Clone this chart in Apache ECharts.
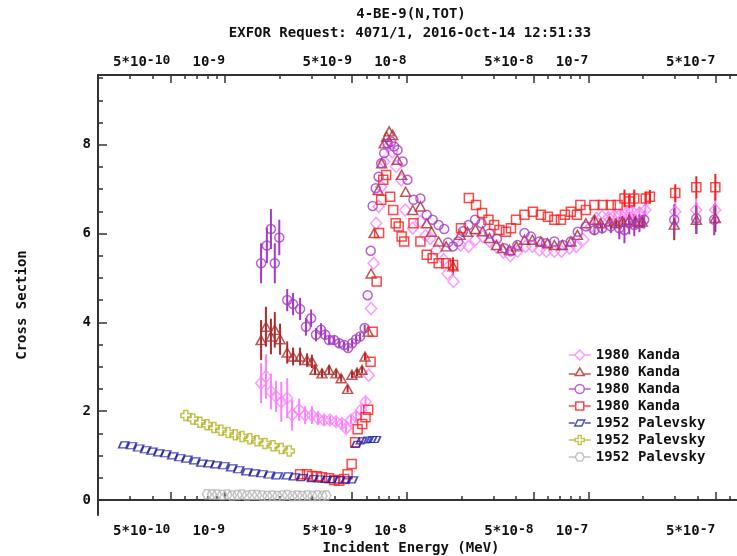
<!DOCTYPE html>
<html><head><meta charset="utf-8">
<script src="https://cdn.jsdelivr.net/npm/echarts@6/dist/echarts.min.js"></script>
<style>html,body{margin:0;padding:0;background:#fff}#c{width:737px;height:556px}</style>
</head><body><div id="c"></div>
<script>
const FONT = '"DejaVu Sans Mono", "Liberation Mono", monospace';
const titleLines = ['4-BE-9(N,TOT)', 'EXFOR Request: 4071/1, 2016-Oct-14 12:51:33'];
const xAxisTitle = 'Incident Energy (MeV)';
const yAxisTitle = 'Cross Section';

const xMin = 2e-10, xMax = 6.58e-7;
const yMin = -0.34, yMax = 9.57;
const xMajorTicks = [5e-10, 1e-9, 5e-9, 1e-8, 5e-8, 1e-7, 5e-7];
const xTickBase = ['5*10', '10', '5*10', '10', '5*10', '10', '5*10'];
const xTickExp = ['-10', '-9', '-9', '-8', '-8', '-7', '-7'];
const xMinorTicks = [3e-10,4e-10,6e-10,7e-10,8e-10,9e-10,2e-9,3e-9,4e-9,6e-9,7e-9,8e-9,9e-9,
  2e-8,3e-8,4e-8,6e-8,7e-8,8e-8,9e-8,2e-7,3e-7,4e-7,6e-7];
const yMajorTicks = [0, 2, 4, 6, 8];
const yMinorTicks = [0.5,1,1.5,2.5,3,3.5,4.5,5,5.5,6.5,7,7.5,8.5,9,9.5];

const legendLabels = ['1980 Kanda','1980 Kanda','1980 Kanda','1980 Kanda','1952 Palevsky','1952 Palevsky','1952 Palevsky'];

// ---- 1980 Kanda (diamonds) ----
const kandaDiamondE = [1.58e-9,1.68e-9,1.79e-9,1.91e-9,2.04e-9,2.20e-9,2.34e-9,2.56e-9,2.76e-9,3.01e-9,
  3.25e-9,3.51e-9,3.79e-9,4.09e-9,4.41e-9,4.64e-9,4.94e-9,5.27e-9,5.61e-9,5.94e-9,
  6.18e-9,6.37e-9,6.58e-9,6.79e-9,7.01e-9,7.24e-9,7.52e-9,7.91e-9,8.32e-9,8.75e-9,9.33e-9,9.82e-9,
  1.08e-8,1.19e-8,1.27e-8,1.35e-8,1.46e-8,1.60e-8,1.68e-8,1.81e-8,1.98e-8,2.19e-8,
  2.39e-8,2.62e-8,2.86e-8,3.12e-8,3.41e-8,3.72e-8,4.07e-8,4.51e-8,4.92e-8,5.38e-8,
  5.87e-8,6.50e-8,7.11e-8,7.87e-8,8.59e-8,9.39e-8,
  1.03e-7,1.11e-7,1.19e-7,1.29e-7,1.39e-7,1.50e-7,1.62e-7,1.75e-7,1.91e-7,2.06e-7,3.01e-7,3.92e-7,4.99e-7];
const kandaDiamondY = [2.63,2.78,2.44,2.33,2.21,2.29,1.91,2.03,1.91,1.91,
  1.84,1.80,1.80,1.76,1.72,1.61,1.80,1.88,2.03,2.21,
  2.81,4.31,5.33,6.23,6.61,7.05,7.62,7.96,7.84,7.51,7.21,6.53,
  6.12,6.27,5.95,5.89,5.63,5.41,5.10,4.92,5.74,5.71,
  5.86,5.93,5.82,5.70,5.58,5.50,5.60,5.71,5.71,5.63,
  5.60,5.60,5.60,5.67,5.71,5.86,
  6.15,6.34,6.38,6.36,6.40,6.42,6.46,6.49,6.46,6.53,6.49,6.53,6.53];
const kandaDiamondErr = [0.45,0.5,0.4,0.35,0.45,0.45,0.35,0.25,0.2,0.2,
  0.15,0.12,0.1,0.1,0.1,0.1,0.1,0.1,0.1,0.1,
  0,0,0,0,0,0,0,0,0,0,0,0,
  0,0,0,0,0,0,0,0,0,0,
  0,0,0,0,0,0,0,0,0,0,
  0,0,0,0,0,0,
  0,0,0,0.1,0.1,0.1,0.12,0.15,0.15,0.15,0.35,0.3,0.3];

// ---- 1980 Kanda (triangles) ----
const kandaTriangleE = [1.58e-9,1.68e-9,1.79e-9,1.88e-9,2.01e-9,2.20e-9,2.37e-9,2.59e-9,2.83e-9,3.01e-9,
  3.13e-9,3.42e-9,3.74e-9,4.09e-9,4.36e-9,4.73e-9,5.00e-9,5.33e-9,5.68e-9,5.90e-9,
  6.14e-9,6.37e-9,6.62e-9,6.97e-9,7.28e-9,7.52e-9,7.76e-9,8.01e-9,8.37e-9,8.87e-9,9.38e-9,9.87e-9,
  1.08e-8,1.19e-8,1.29e-8,1.37e-8,1.50e-8,1.65e-8,1.80e-8,1.97e-8,2.16e-8,2.39e-8,
  2.62e-8,2.86e-8,3.12e-8,3.37e-8,3.68e-8,4.02e-8,4.45e-8,4.92e-8,5.48e-8,5.95e-8,
  6.50e-8,7.19e-8,8.01e-8,8.71e-8,9.69e-8,
  1.08e-7,1.17e-7,1.31e-7,1.42e-7,1.54e-7,1.68e-7,1.82e-7,1.98e-7,2.97e-7,3.93e-7,5.00e-7];
const kandaTriangleY = [3.60,3.90,3.68,3.83,3.62,3.32,3.23,3.23,3.15,3.12,
  2.93,2.85,2.93,2.85,2.74,2.50,2.82,2.87,2.93,3.23,
  3.79,5.10,6.01,6.98,7.58,8.03,8.18,8.30,8.22,7.66,7.32,6.94,
  6.53,6.61,6.23,6.04,5.82,5.71,5.26,5.97,6.04,6.10,
  6.05,5.90,5.74,5.67,5.63,5.71,5.86,5.86,5.82,5.78,
  5.74,5.74,5.82,5.97,6.23,
  6.31,6.23,6.27,6.23,6.27,6.31,6.27,6.27,6.20,6.31,6.35];
const kandaTriangleErr = [0.45,0.45,0.4,0.4,0.35,0.25,0.2,0.2,0.15,0.15,
  0.12,0.1,0.1,0.1,0.08,0.08,0.08,0.08,0.08,0.08,
  0,0,0,0,0,0,0,0,0,0,0,0,
  0,0,0,0,0,0,0.2,0,0,0,
  0,0,0,0,0,0,0,0,0,0,
  0,0,0,0,0,
  0.1,0.1,0.1,0.1,0.12,0.12,0.15,0.15,0.35,0.32,0.32];

// ---- 1980 Kanda (circles) ----
const kandaCircleE = [1.58e-9,1.70e-9,1.79e-9,1.88e-9,1.99e-9,2.20e-9,2.37e-9,2.59e-9,2.79e-9,2.98e-9,
  3.17e-9,3.38e-9,3.56e-9,3.74e-9,3.99e-9,4.25e-9,4.53e-9,4.76e-9,5.01e-9,5.27e-9,
  5.54e-9,5.87e-9,6.10e-9,6.34e-9,6.50e-9,6.75e-9,7.01e-9,7.24e-9,7.52e-9,7.85e-9,
  8.22e-9,8.53e-9,8.91e-9,9.50e-9,
  1.01e-8,1.09e-8,1.19e-8,1.29e-8,1.39e-8,1.50e-8,1.61e-8,1.69e-8,1.80e-8,1.92e-8,
  2.04e-8,2.19e-8,2.38e-8,2.58e-8,2.86e-8,3.14e-8,3.45e-8,3.75e-8,4.07e-8,4.45e-8,
  4.83e-8,5.38e-8,5.84e-8,6.50e-8,7.24e-8,8.01e-8,8.75e-8,9.69e-8,
  1.08e-7,1.19e-7,1.33e-7,1.48e-7,1.58e-7,1.68e-7,1.79e-7,1.91e-7,2.03e-7,2.97e-7,3.93e-7,4.93e-7];
const kandaCircleY = [5.33,5.73,6.10,5.33,5.91,4.50,4.41,4.30,3.90,4.09,
  3.72,3.83,3.72,3.60,3.60,3.53,3.49,3.42,3.53,3.62,
  3.68,3.87,4.61,5.61,6.62,7.02,7.28,7.58,7.81,8.03,
  8.07,7.96,7.88,7.62,
  7.21,6.76,6.79,6.42,6.31,6.19,6.10,5.80,5.71,5.82,
  6.05,6.19,6.31,6.23,6.00,5.88,5.67,5.60,5.74,6.01,
  5.93,5.82,5.78,5.82,5.74,5.82,6.04,6.16,
  6.08,6.12,6.16,6.12,6.08,6.23,6.19,6.23,6.31,6.31,6.34,6.31];
const kandaCircleErr = [0.45,0.4,0.45,0.45,0.4,0.25,0.25,0.25,0.2,0.2,
  0.15,0.15,0.12,0.1,0.1,0.1,0.08,0.08,0.08,0.08,
  0.08,0.08,0,0,0,0,0,0,0,0,
  0,0,0,0,
  0,0,0,0,0,0,0,0,0,0,
  0,0,0,0,0,0,0,0,0,0,
  0,0,0,0,0,0,0,0,
  0.12,0.12,0.15,0.25,0.3,0.25,0.25,0.2,0.2,0.35,0.35,0.35];

// ---- 1980 Kanda (squares) ----
const kandaSquareE = [2.59e-9,2.83e-9,3.01e-9,3.21e-9,3.42e-9,3.74e-9,3.99e-9,4.25e-9,4.53e-9,4.73e-9,
  4.98e-9,5.20e-9,5.37e-9,5.69e-9,5.94e-9,6.14e-9,6.33e-9,6.50e-9,6.84e-9,7.05e-9,
  7.24e-9,7.43e-9,7.71e-9,8.11e-9,8.43e-9,8.70e-9,9.04e-9,9.38e-9,9.69e-9,
  1.09e-8,1.19e-8,1.29e-8,1.39e-8,1.50e-8,1.65e-8,1.80e-8,1.99e-8,2.20e-8,2.41e-8,
  2.60e-8,2.82e-8,3.03e-8,3.24e-8,3.52e-8,3.75e-8,4.00e-8,4.45e-8,4.95e-8,5.48e-8,
  5.99e-8,6.50e-8,7.06e-8,7.43e-8,8.01e-8,8.65e-8,9.04e-8,9.69e-8,
  1.08e-7,1.20e-7,1.33e-7,1.45e-7,1.58e-7,1.68e-7,1.79e-7,2.07e-7,2.18e-7,3.01e-7,3.93e-7,5.00e-7];
const kandaSquareY = [0.58,0.58,0.54,0.53,0.51,0.49,0.45,0.43,0.47,0.58,
  0.81,1.30,1.59,1.71,1.86,2.03,3.11,3.79,4.92,6.01,
  6.76,7.21,7.32,6.83,6.53,6.23,6.16,5.93,5.82,
  6.23,5.82,5.52,5.44,5.33,5.33,5.29,6.12,6.80,6.64,
  6.46,6.31,6.19,6.08,6.04,6.12,6.31,6.42,6.49,6.42,
  6.38,6.31,6.31,6.42,6.49,6.42,6.64,6.53,
  6.64,6.64,6.64,6.64,6.79,6.72,6.79,6.79,6.83,6.91,7.04,7.04];
const kandaSquareErr = [0,0,0,0,0,0,0,0,0,0,
  0,0,0,0,0,0,0,0,0,0,
  0,0,0,0,0,0,0,0,0,
  0,0,0,0,0,0,0.15,0,0,0,
  0,0,0,0,0,0,0,0,0,0,
  0,0,0,0,0,0,0,0,
  0,0,0,0,0.2,0.15,0.2,0.15,0.15,0.2,0.25,0.3];

// ---- 1952 Palevsky ----
const palevskyAE = [2.77e-10,3.06e-10,3.35e-10,3.66e-10,3.96e-10,4.32e-10,4.72e-10,5.16e-10,5.64e-10,6.17e-10,
  6.83e-10,7.46e-10,8.16e-10,8.92e-10,9.87e-10,1.09e-9,1.19e-9,1.32e-9,1.45e-9,1.60e-9,
  1.75e-9,1.94e-9,2.20e-9,2.41e-9,2.66e-9,3.03e-9,3.31e-9,3.61e-9,3.90e-9,4.26e-9,
  4.67e-9,5.03e-9,5.30e-9,5.64e-9,6.01e-9,6.41e-9,6.74e-9];
const palevskyAY = [1.24,1.22,1.17,1.13,1.10,1.06,1.04,0.99,0.95,0.92,
  0.88,0.83,0.81,0.79,0.77,0.72,0.68,0.63,0.61,0.59,
  0.56,0.54,0.54,0.52,0.50,0.48,0.47,0.46,0.46,0.45,
  0.45,0.45,1.25,1.33,1.35,1.36,1.36];
const palevskyBE = [6.09e-10,6.65e-10,7.27e-10,7.96e-10,8.69e-10,9.50e-10,1.04e-9,1.14e-9,1.24e-9,1.37e-9,
  1.50e-9,1.66e-9,1.84e-9,2.04e-9,2.26e-9];
const palevskyBY = [1.90,1.82,1.75,1.69,1.63,1.57,1.52,1.47,1.43,1.38,1.33,1.27,1.22,1.16,1.10];
const palevskyCE = [7.96e-10,8.48e-10,9.03e-10,9.63e-10,1.03e-9,1.09e-9,1.17e-9,1.24e-9,1.32e-9,1.41e-9,
  1.50e-9,1.60e-9,1.71e-9,1.82e-9,1.94e-9,2.07e-9,2.20e-9,2.35e-9,2.50e-9,2.66e-9,
  2.84e-9,3.03e-9,3.22e-9,3.44e-9,3.61e-9];
const palevskyCY = [0.13,0.12,0.12,0.11,0.12,0.10,0.11,0.12,0.10,0.11,
  0.11,0.10,0.09,0.10,0.09,0.10,0.11,0.09,0.10,0.09,
  0.10,0.09,0.10,0.09,0.10];

// ---- styles (kept apart from data) ----
const seriesDefs = [
  {id:'kd', E:kandaDiamondE, Y:kandaDiamondY, Err:kandaDiamondErr, color:'#ff80ff', symbol:'diamond', size:[11,12],
   icon:'path://M0,5H6M6,5L11,0L16,5L11,10ZM16,5H22'},
  {id:'kt', E:kandaTriangleE, Y:kandaTriangleY, Err:kandaTriangleErr, color:'#b02a2a', symbol:'triangle', size:[10,9],
   icon:'path://M0,7H6.5M6.5,8.5L11,1L15.5,8.5ZM15.5,7H22M0,0.01H0.01M0,9.99H0.01'},
  {id:'kc', E:kandaCircleE, Y:kandaCircleY, Err:kandaCircleErr, color:'#a838c8', symbol:'circle', size:9,
   icon:'path://M0,5H6.5M6.5,5A4.5,4.5 0 1 1 15.5,5A4.5,4.5 0 1 1 6.5,5ZM15.5,5H22'},
  {id:'ks', E:kandaSquareE, Y:kandaSquareY, Err:kandaSquareErr, color:'#ff1a1a', symbol:'rect', size:9,
   icon:'path://M0,5H7M7,1H15V9H7ZM15,5H22M0,0.01H0.01M0,9.99H0.01'},
  {id:'pa', E:palevskyAE, Y:palevskyAY, Err:null, color:'#2020a8', symbol:'path://M0,7L3,0L11,0L8,7Z', size:[10,6],
   icon:'path://M0,5H6M6,8L9,2H16L13,8ZM16,5H22M0,0.01H0.01M0,9.99H0.01'},
  {id:'pb', E:palevskyBE, Y:palevskyBY, Err:null, color:'#b4b424', symbol:'path://M3,0H7V3H10V7H7V10H3V7H0V3H3Z', size:10,
   icon:'path://M0,5H6.5M9.5,0.5H12.5V3.5H15.5V6.5H12.5V9.5H9.5V6.5H6.5V3.5H9.5ZM15.5,5H22'},
  {id:'pc', E:palevskyCE, Y:palevskyCY, Err:null, color:'#b4b4b4', symbol:'path://M10,5L7.5,9.33L2.5,9.33L0,5L2.5,0.67L7.5,0.67Z', size:9,
   icon:'path://M0,5H6.5M15.5,5L13.25,8.9L8.75,8.9L6.5,5L8.75,1.1L13.25,1.1ZM15.5,5H22M0,0.01H0.01M0,9.99H0.01'}
];

const L = v => Math.log10(v);
const pts = d => d.E.map((e, i) => [L(e), d.Y[i], d.Err ? (d.Err[i] || 0) : 0]);

const series = [];
seriesDefs.forEach(d => {
  if (d.Err) {
    series.push({
      type:'custom', name:d.id + '-err', xAxisIndex:0, yAxisIndex:0, silent:true,
      data: pts(d), encode:{x:0, y:1},
      renderItem: (params, api) => {
        const x = api.value(0), y = api.value(1), e = api.value(2);
        if (!e) return null;
        const p1 = api.coord([x, y - e]), p2 = api.coord([x, y + e]);
        return {type:'line', shape:{x1:p1[0], y1:p1[1], x2:p2[0], y2:p2[1]},
          style:{stroke:d.color, lineWidth:2}};
      }
    });
  }
});
seriesDefs.forEach(d => {
  series.push({
    type:'scatter', name:d.id, xAxisIndex:0, yAxisIndex:0, data:pts(d),
    symbol:d.symbol, symbolSize:d.size, silent:true,
    itemStyle:{color:'rgba(0,0,0,0)', borderColor:d.color, borderWidth:1.5}
  });
});

const tickLine = {color:'#333', width:1.5};
const majorLabelFmt = v => {
  const i = xMajorTicks.findIndex(t => Math.abs(L(t) - v) < 1e-6);
  return i < 0 ? '' : '{b|' + xTickBase[i] + '}{e|' + xTickExp[i] + '}';
};
const xRich = {
  b:{fontFamily:FONT, fontSize:14, fontWeight:'bold', color:'#111', lineHeight:15, verticalAlign:'bottom'},
  e:{fontFamily:FONT, fontSize:13, fontWeight:'bold', color:'#111', lineHeight:13, verticalAlign:'top', padding:[0,0,6,0]}
};
function xAx(position, major) {
  return {
    type:'value', position, min:L(xMin), max:L(xMax), gridIndex:0,
    axisLine:{show:major, lineStyle:{color:'#333', width:2}},
    splitLine:{show:false},
    axisTick:{show:true, inside:true, length: major ? 8 : 4, lineStyle:tickLine,
      customValues:(major ? xMajorTicks : xMinorTicks).map(L)},
    axisLabel:major ? {show:true, customValues:xMajorTicks.map(L), formatter:majorLabelFmt, rich:xRich,
      align:'right', margin: position === 'top' ? 6 : 8} : {show:false}
  };
}
function yAx(major) {
  return {
    type:'value', position:'left', min:yMin, max:yMax, gridIndex:0,
    axisLine:{show:major, lineStyle:{color:'#333', width:2}},
    splitLine:{show:false},
    axisTick:{show:true, inside:true, length: major ? 9 : 5, lineStyle:tickLine,
      customValues: major ? yMajorTicks : yMinorTicks},
    axisLabel:major ? {show:true, customValues:yMajorTicks, margin:7, fontFamily:FONT, fontSize:14,
      fontWeight:'bold', color:'#111'} : {show:false}
  };
}

const chart = echarts.init(document.getElementById('c'), null, {renderer:'canvas', width:737, height:556});
chart.setOption({
  animation:false,
  backgroundColor:'#fff',
  grid:{left:98, right:0, top:75, bottom:41, containLabel:false, outerBoundsMode:'none'},
  xAxis:[xAx('bottom', true), xAx('bottom', false), xAx('top', true), xAx('top', false)],
  yAxis:[yAx(true), yAx(false)],
  legend:{
    orient:'vertical', left:568, top:348, padding:0, itemWidth:22, itemHeight:10, itemGap:3,
    selectedMode:false,
    textStyle:{fontFamily:FONT, fontSize:14, fontWeight:'bold', color:'#111', lineHeight:14},
    data: seriesDefs.map(d => ({name:d.id, icon:d.icon,
      itemStyle:{color:'rgba(0,0,0,0)', borderColor:d.color, borderWidth:1.5}})),
    formatter: name => legendLabels[seriesDefs.findIndex(d => d.id === name)]
  },
  graphic:[
    {type:'text', x:411, y:14, style:{text:titleLines[0], font:'bold 14px ' + FONT, fill:'#111',
      textAlign:'center', textVerticalAlign:'middle', align:'center', verticalAlign:'middle'}},
    {type:'text', x:410, y:33, style:{text:titleLines[1], font:'bold 14px ' + FONT, fill:'#111',
      textAlign:'center', textVerticalAlign:'middle', align:'center', verticalAlign:'middle'}},
    {type:'text', x:411, y:548, style:{text:xAxisTitle, font:'bold 14px ' + FONT, fill:'#111',
      textAlign:'center', textVerticalAlign:'middle', align:'center', verticalAlign:'middle'}},
    {type:'text', x:22, y:305, rotation:Math.PI / 2, style:{text:yAxisTitle, font:'bold 14px ' + FONT, fill:'#111',
      textAlign:'center', textVerticalAlign:'middle', align:'center', verticalAlign:'middle'}}
  ],
  series
});
</script></body></html>
